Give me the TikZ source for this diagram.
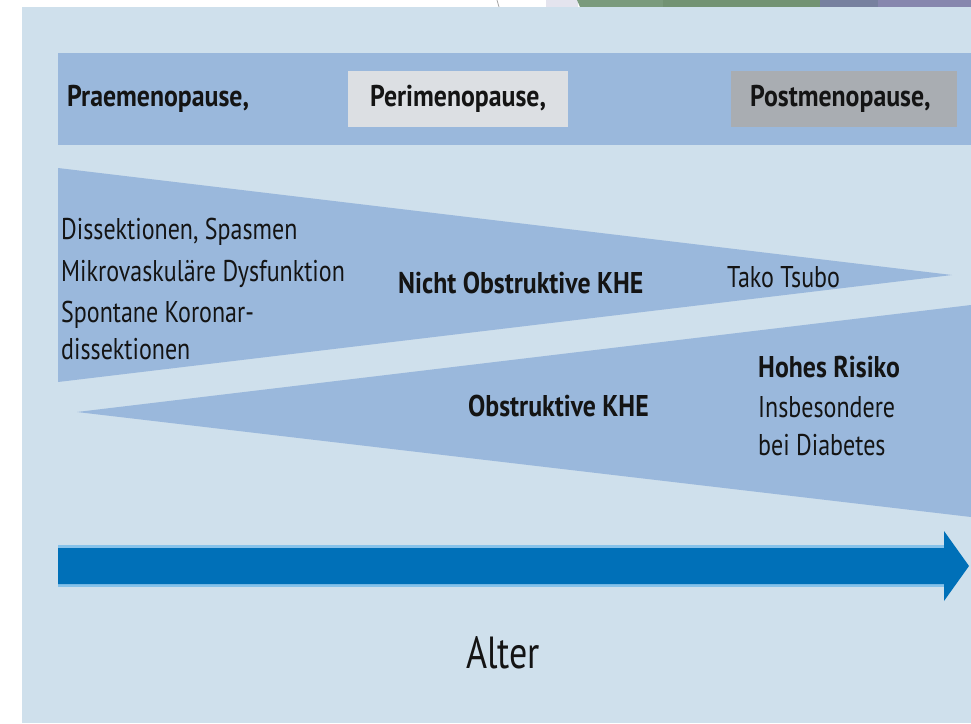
\documentclass[tikz,border=0pt]{standalone}
\usepackage{fontspec}
\setmainfont{PT Sans}[FakeStretch=0.80, BoldFeatures={FakeStretch=0.86}]
\definecolor{panel}{HTML}{CFE0EC}
\definecolor{band}{HTML}{9AB8DC}
\definecolor{peri}{HTML}{DCDFE3}
\definecolor{post}{HTML}{A9ADB2}
\definecolor{arrowblue}{HTML}{0070B8}
\definecolor{halo}{HTML}{86C2EA}
\definecolor{ink}{HTML}{141414}
\definecolor{lav}{HTML}{E4E4EE}
\definecolor{greenA}{HTML}{7B9B7D}
\definecolor{greenB}{HTML}{739373}
\definecolor{slate}{HTML}{77819F}
\definecolor{purp}{HTML}{8787AE}
\tikzset{
  lbl/.style={anchor=base west, inner sep=0pt, text=ink, font=\fontsize{30}{40}\selectfont},
  blbl/.style={lbl, font=\fontsize{30}{40}\selectfont\bfseries}
}
\begin{document}
\begin{tikzpicture}[x=1pt,y=-1pt]
\useasboundingbox (0,0) rectangle (971,723);
\fill[white] (0,0) rectangle (971,723);
% remnants at the top edge
\draw[gray!70, line width=0.8pt] (497,0) -- (499,7);
\fill[lav] (546,0) rectangle (578,7);
\fill[greenA] (577,0) -- (663,0) -- (663,7) -- (580,7) -- cycle;
\fill[greenB] (663,0) rectangle (820,7);
\fill[slate] (820,0) rectangle (878,7);
\fill[purp] (878,0) rectangle (971,7);
% panel
\fill[panel] (22,7) rectangle (971,723);
% header band
\fill[band] (58,53) rectangle (971,145);
\fill[peri] (348,71) rectangle (568,127);
\fill[post] (731,71) rectangle (957,127);
\node[blbl] (prae) at (67,106) {Praemenopause,};
\node[blbl] (peri) at (370,106) {Perimenopause,};
\node[blbl] (post) at (750,106) {Postmenopause,};
% wedges
\fill[band] (58,168) -- (952,275) -- (58,382) -- cycle;
\fill[band] (77,412) -- (971,305) -- (971,517) -- cycle;
% arrow
\fill[halo] (58,545) rectangle (946,587);
\fill[arrowblue] (58,548) -- (944,548) -- (944,531) -- (969,566) -- (944,601) -- (944,584) -- (58,584) -- cycle;
% texts
\node[lbl] (diss1) at (61,239) {Dissektionen, Spasmen};
\node[lbl] (diss2) at (61,281) {Mikrovaskuläre Dysfunktion};
\node[lbl] (diss3) at (61,322) {Spontane Koronar-};
\node[lbl] (diss4) at (61,359) {dissektionen};
\node[blbl] (nokhe) at (398,293) {Nicht Obstruktive KHE};
\node[lbl] (tako) at (727,287) {Tako Tsubo};
\node[blbl] (okhe) at (468,416) {Obstruktive KHE};
\node[blbl] (hohes) at (758,377) {Hohes Risiko};
\node[lbl] (insb) at (758,417) {Insbesondere};
\node[lbl] (diab) at (758,455) {bei Diabetes};
\node[lbl, anchor=base, font=\fontsize{45}{50}\selectfont] (alter) at (503,668) {Alter};
\end{tikzpicture}
\end{document}
